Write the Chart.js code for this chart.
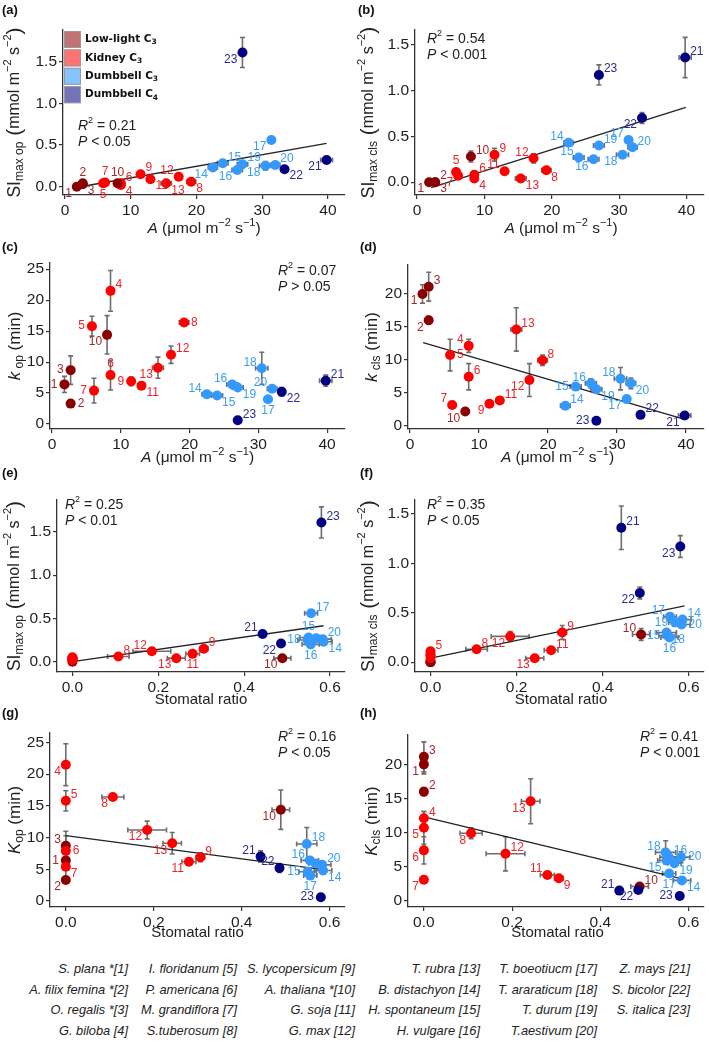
<!DOCTYPE html>
<html>
<head>
<meta charset="utf-8">
<script src="https://cdn.jsdelivr.net/npm/chart.js@4.4.1/dist/chart.umd.min.js"></script>
<style>
  body { margin: 0; background: #fff; width: 709px; height: 1042px; position: relative; overflow: hidden; }
  canvas { position: absolute; }
  .col { position: absolute; top: 959px; text-align: right; font-style: italic; font-size: 12.8px;
         line-height: 20.5px; color: #222; white-space: nowrap; font-family: "Liberation Sans", Arial, sans-serif; }
</style>
</head>
<body>
<script>
// species 1..23
const species = ['S. plana *[1]', 'A. filix femina *[2]', 'O. regalis *[3]', 'G. biloba [4]',
  'I. floridanum [5]', 'P. americana [6]', 'M. grandiflora [7]', 'S.tuberosum [8]',
  'S. lycopersicum [9]', 'A. thaliana *[10]', 'G. soja [11]', 'G. max [12]',
  'T. rubra [13]', 'B. distachyon [14]', 'H. spontaneum [15]', 'H. vulgare [16]',
  'T. boeotiucm [17]', 'T. araraticum [18]', 'T. durum [19]', 'T.aestivum [20]',
  'Z. mays [21]', 'S. bicolor [22]', 'S. italica [23]'];
// 0 low-light C3, 1 kidney C3, 2 dumbbell C3, 3 dumbbell C4
const group = [0,0,0,1,1,1,1,1,1,0,1,1,1,2,2,2,2,2,2,2,3,3,3];
const groupNames = ['Low-light C', 'Kidney C', 'Dumbbell C', 'Dumbbell C'];
const groupSub = ['3', '3', '3', '4'];

const A     = [1.8, 2.7, 2.7, 8.5, 5.8, 8.5, 6.1, 19.2, 11.5, 8.0, 13.0, 17.3, 15.4, 22.5, 24.0, 26.2, 31.4, 30.5, 27.0, 32.0, 39.8, 33.4, 27.0];
const Aerr  = [0.1, 0.1, 0.1, 0.2, 0.2, 0.2, 0.2, 0.7, 0.3, 0.2, 0.5, 0.4, 0.8, 0.7, 0.8, 0.8, 0.5, 0.9, 0.8, 0.7, 0.9, 0.3, 0.2];
const SR    = [0, 0, 0, 0, 0, 0, 0, 0.107, 0.306, 0.489, 0.28, 0.185, 0.242, 0.585, 0.55, 0.555, 0.556, 0.548, 0.568, 0.583, 0.443, 0.486, 0.58];
const SRerr = [0, 0, 0, 0, 0, 0, 0, 0.025, 0.01, 0.02, 0.016, 0.044, 0.021, 0.02, 0.02, 0.02, 0.015, 0.023, 0.015, 0.02, 0.005, 0.005, 0.005];
const SIop     = [0.0, 0.04, 0.03, 0.02, 0.04, 0.04, 0.05, 0.06, 0.15, 0.04, 0.09, 0.12, 0.04, 0.23, 0.28, 0.20, 0.56, 0.25, 0.27, 0.26, 0.32, 0.21, 1.61];
const SIopErr  = [0.01, 0.02, 0.01, 0.01, 0.01, 0.01, 0.01, 0.01, 0.02, 0.01, 0.01, 0.01, 0.01, 0.02, 0.02, 0.02, 0.03, 0.05, 0.02, 0.02, 0.03, 0.02, 0.18];
const SIcls    = [0.0, 0.0, 0.0, 0.04, 0.11, 0.08, 0.07, 0.13, 0.30, 0.28, 0.12, 0.26, 0.04, 0.43, 0.27, 0.25, 0.46, 0.30, 0.40, 0.38, 1.36, 0.70, 1.17];
const SIclsErr = [0.01, 0.01, 0.01, 0.03, 0.03, 0.03, 0.02, 0.02, 0.07, 0.06, 0.02, 0.05, 0.02, 0.02, 0.02, 0.02, 0.03, 0.03, 0.02, 0.03, 0.22, 0.06, 0.11];
const kop      = [6.4, 3.3, 8.7, 21.5, 15.8, 7.9, 5.4, 16.4, 6.9, 14.4, 6.2, 11.2, 9.1, 4.8, 4.6, 6.4, 4.0, 9.0, 5.9, 5.7, 7.0, 5.2, 0.6];
const kopErr   = [1.3, 0.4, 2.3, 3.3, 1.6, 2.4, 2.0, 0.2, 0.7, 3.1, 0.3, 1.4, 1.7, 0.5, 0.3, 0.3, 0.4, 2.6, 0.3, 0.4, 0.9, 0.7, 0.2];
const kcls     = [20.0, 16.0, 21.1, 12.1, 10.7, 7.4, 3.1, 9.9, 3.3, 2.1, 3.8, 6.9, 14.6, 3.0, 5.9, 6.4, 4.0, 7.1, 5.5, 6.4, 1.5, 1.6, 0.7];
const kclsErr  = [1.4, 0.6, 2.2, 1.0, 2.4, 2.0, 0.5, 0.8, 0.2, 0.2, 0.2, 2.5, 3.3, 0.2, 0.3, 0.7, 0.3, 1.7, 0.5, 0.8, 0.2, 0.2, 0.2];

// fitted lines, end points
const fitA_SIop  = { x: [1.7, 39.8], y: [-0.01, 0.52] };
const fitA_SIcls = { x: [2.1, 39.9], y: [-0.06, 0.815] };
const fitA_kcls  = { x: [1.9, 39.8], y: [12.6, 0.9] };
const fitS_SIop  = { x: [0, 0.585], y: [0.0, 0.415] };
const fitS_SIcls = { x: [0, 0.59], y: [0.04, 0.57] };
const fitS_kop   = { x: [0, 0.59], y: [10.3, 4.9] };
const fitS_kcls  = { x: [0, 0.59], y: [12.3, 3.15] };

const ticksA = [0, 10, 20, 30, 40];
const ticksSR = [0, 0.2, 0.4, 0.6];
const ticksSI = [0, 0.5, 1.0, 1.5];
const ticksK25 = [0, 5, 10, 15, 20, 25];
const ticksK20 = [0, 5, 10, 15, 20];

const FONT = '"Liberation Sans", Arial, sans-serif';
const pointColors = ['#8b0000', '#ff0000', '#3399ff', '#000080'];
const labelColors = ['#a3262a', '#e8262c', '#3a9ef2', '#2b2b92'];
const boxColors = ['rgba(139,0,0,0.55)', 'rgba(255,0,0,0.55)', 'rgba(51,153,255,0.6)', 'rgba(0,0,128,0.55)'];

// label placement codes (ggrepel style)
const OFF = { r: [7, 0, 'left'], l: [-7, 0, 'right'], a: [0, -11, 'center'], b: [0, 11, 'center'],
              q: [5, -6, 'left'], w: [-5, -6, 'right'], e: [5, 7, 'left'], z: [-5, 7, 'right'] };

const sup = t => ({ t, s: 11, dy: -6 });
const titleSI = op => [{ t: 'SI', s: 17.5 }, { t: op, s: 12, dy: 5 }, { t: ' (', s: 21 }, { t: 'mmol m', s: 16 },
  { t: '\u22122', s: 11, dy: -7 }, { t: ' s', s: 16 }, { t: '\u22122', s: 11, dy: -7 }, { t: ')', s: 21 }];
const titleK = (k, sub) => [{ t: k, s: 17, i: true }, { t: sub, s: 12, dy: 5 }, { t: ' (min)', s: 17 }];
const titleA = [{ t: 'A', s: 15.5, i: true }, { t: ' (\u03bcmol m', s: 15.5 }, sup('\u22122'), { t: ' s', s: 15.5 }, sup('\u22121'), { t: ')', s: 15.5 }];
const titleSR = [{ t: 'Stomatal ratio', s: 15 }];
const stat = (r, p) => [[{ t: 'R', s: 14, i: true }, { t: '2', s: 9, dy: -5 }, { t: ' = ' + r, s: 14 }],
                        [{ t: 'P', s: 14, i: true }, { t: p, s: 14 }]];

function fontOf(s) { return (s.i ? 'italic ' : '') + (s.b ? 'bold ' : '') + s.s + 'px ' + (s.f || FONT); }
function drawRich(ctx, segs, x, y, align) {
  let w = 0;
  segs.forEach(s => { ctx.font = fontOf(s); w += ctx.measureText(s.t).width; });
  let cx = align === 'center' ? x - w / 2 : align === 'right' ? x - w : x;
  ctx.textAlign = 'left';
  ctx.textBaseline = 'middle';
  segs.forEach(s => { ctx.font = fontOf(s); ctx.fillText(s.t, cx, y + (s.dy || 0)); cx += ctx.measureText(s.t).width; });
}

function panel(cfg) {
  const [cx, cy, cw, ch] = cfg.cell;
  const [l, t, r, b] = cfg.area;
  const cv = document.createElement('canvas');
  cv.width = cw; cv.height = ch;
  cv.style.left = cx + 'px'; cv.style.top = cy + 'px';
  document.body.appendChild(cv);

  const datasets = [{
    data: cfg.x.map((x, i) => ({ x, y: cfg.y[i] })),
    backgroundColor: group.map(g => pointColors[g]),
    pointRadius: 5, pointHoverRadius: 5, pointBorderWidth: 0
  }];
  if (cfg.fit) {
    datasets.push({
      data: cfg.fit.x.map((x, i) => ({ x, y: cfg.fit.y[i] })),
      showLine: true, borderColor: '#222', borderWidth: 1.3, pointRadius: 0
    });
  }
  const axis = (range, ticks, fmt) => ({
    type: 'linear', min: range[0], max: range[1],
    afterBuildTicks: s => { s.ticks = ticks.map(v => ({ value: v })); },
    grid: { display: true, drawOnChartArea: false, drawTicks: true, tickLength: 4, color: '#333', lineWidth: 1.2 },
    border: { display: true, color: '#333', width: 1.3 },
    ticks: { font: { family: FONT, size: 15.5 }, color: '#1e1e1e', padding: 2, maxRotation: 0, autoSkip: false, callback: fmt }
  });
  const xs = axis(cfg.xr, cfg.xt, cfg.xf);
  xs.afterFit = s => { s.height = cy + ch - b; };
  const ys = axis(cfg.yr, cfg.yt, cfg.yf);
  ys.afterFit = s => { s.width = l - cx; };

  const extras = {
    id: 'extras',
    beforeDatasetsDraw(chart) {
      const ctx = chart.ctx, sx = chart.scales.x, sy = chart.scales.y;
      ctx.save();
      ctx.strokeStyle = '#6e6e6e';
      ctx.lineWidth = 1.6;
      cfg.x.forEach((xv, i) => {
        const px = sx.getPixelForValue(xv), py = sy.getPixelForValue(cfg.y[i]);
        const ye = cfg.ye[i], xe = cfg.xe[i];
        ctx.beginPath();
        if (ye > 0) {
          const y1 = sy.getPixelForValue(cfg.y[i] - ye), y2 = sy.getPixelForValue(cfg.y[i] + ye);
          ctx.moveTo(px, y1); ctx.lineTo(px, y2);
          ctx.moveTo(px - 2.5, y1); ctx.lineTo(px + 2.5, y1);
          ctx.moveTo(px - 2.5, y2); ctx.lineTo(px + 2.5, y2);
        }
        if (xe > 0) {
          const x1 = sx.getPixelForValue(xv - xe), x2 = sx.getPixelForValue(xv + xe);
          ctx.moveTo(x1, py); ctx.lineTo(x2, py);
          ctx.moveTo(x1, py - 2.5); ctx.lineTo(x1, py + 2.5);
          ctx.moveTo(x2, py - 2.5); ctx.lineTo(x2, py + 2.5);
        }
        ctx.stroke();
      });
      ctx.restore();
    },
    afterDatasetsDraw(chart) {
      const ctx = chart.ctx, sx = chart.scales.x, sy = chart.scales.y;
      ctx.save();
      ctx.font = '12px ' + FONT;
      ctx.textBaseline = 'middle';
      cfg.x.forEach((xv, i) => {
        const o = OFF[cfg.lab[i]];
        if (!o) return;
        ctx.fillStyle = labelColors[group[i]];
        ctx.textAlign = o[2];
        ctx.fillText(String(i + 1), sx.getPixelForValue(xv) + o[0], sy.getPixelForValue(cfg.y[i]) + o[1]);
      });
      ctx.restore();
    },
    afterDraw(chart) {
      const ctx = chart.ctx;
      ctx.save();
      ctx.fillStyle = '#111';
      drawRich(ctx, [{ t: '(' + cfg.id + ')', s: 13, b: true }], cfg.tag[0] - cx, cfg.tag[1] - cy, 'left');
      ctx.fillStyle = '#222';
      drawRich(ctx, cfg.xtitle, (l + r) / 2 - cx, cfg.xty - cy, 'center');
      ctx.save();
      ctx.translate(cfg.ytx - cx, (t + b) / 2 - cy);
      ctx.rotate(-Math.PI / 2);
      drawRich(ctx, cfg.ytitle, 0, 0, 'center');
      ctx.restore();
      if (cfg.stat) {
        drawRich(ctx, cfg.stat[0], cfg.statPos[0] - cx, cfg.statPos[1] - cy, 'left');
        drawRich(ctx, cfg.stat[1], cfg.statPos[0] - cx, cfg.statPos[1] + 16 - cy, 'left');
      }
      if (cfg.legend) {
        groupNames.forEach((g, k) => {
          const bx = l + 1 - cx, by = t + 1 + k * 18.4 - cy;
          ctx.fillStyle = boxColors[k];
          ctx.fillRect(bx, by, 17, 17);
          ctx.strokeStyle = '#999';
          ctx.lineWidth = 1;
          ctx.strokeRect(bx + 0.5, by + 0.5, 16, 16);
          ctx.fillStyle = '#111';
          drawRich(ctx, [{ t: g, s: 10.5, b: true, f: '"DejaVu Sans", sans-serif' },
                         { t: groupSub[k], s: 7.5, b: true, dy: 3, f: '"DejaVu Sans", sans-serif' }], bx + 21, by + 8.5, 'left');
        });
      }
      ctx.restore();
    }
  };

  new Chart(cv, {
    type: 'scatter',
    data: { datasets },
    options: {
      responsive: false, animation: false, events: [],
      layout: { padding: { left: 0, top: t - cy, right: cx + cw - r, bottom: 0 } },
      plugins: { legend: { display: false }, tooltip: { enabled: false } },
      scales: { x: xs, y: ys }
    },
    plugins: [extras]
  });
}

const f1 = v => v.toFixed(1);
const f0 = v => String(v);

panel({ id: 'a', cell: [0, 0, 354, 238], area: [63, 30, 345, 195], tag: [2, 10],
  x: A, xe: Aerr, y: SIop, ye: SIopErr, xr: [-0.3, 42.6], yr: [-0.1, 1.88], xt: ticksA, yt: ticksSI, xf: f0, yf: f1,
  fit: fitA_SIop, lab: 'zaeebqaeqaewezqzzzqqzez', xtitle: titleA, xty: 229, ytitle: titleSI('max op'), ytx: 15,
  stat: stat('0.21', ' < 0.05'), statPos: [78, 126], legend: true });
panel({ id: 'b', cell: [354, 0, 355, 238], area: [415, 30, 707, 195], tag: [358, 10],
  x: A, xe: Aerr, y: SIcls, ye: SIclsErr, xr: [-0.3, 42.6], yr: [-0.14, 1.66], xt: ticksA, yt: ticksSI, xf: f0, yf: f1,
  fit: fitA_SIcls, lab: 'zqeeaqzeqqwwewwzwzqqqzq', xtitle: titleA, xty: 229, ytitle: titleSI('max cls'), ytx: 369,
  stat: stat('0.54', ' < 0.001'), statPos: [427, 39] });
panel({ id: 'c', cell: [0, 238, 354, 228], area: [50, 263, 345, 429], tag: [2, 247],
  x: A, xe: Aerr, y: kop, ye: kopErr, xr: [-0.3, 42.6], yr: [-0.8, 26], xt: ticksA, yt: ticksK25, xf: f0, yf: f0,
  fit: null, lab: 'lrlqlalrlzeqzwewbwewqeq', xtitle: titleA, xty: 458, ytitle: titleK('k', ' op'), ytx: 15,
  stat: stat('0.07', ' > 0.05'), statPos: [278, 271] });
panel({ id: 'd', cell: [354, 238, 355, 228], area: [408, 265, 707, 429], tag: [360, 247],
  x: A, xe: Aerr, y: kcls, ye: kclsErr, xr: [-0.3, 42.6], yr: [-0.55, 24.4], xt: ticksA, yt: ticksK20, xf: f0, yf: f0,
  fit: fitA_kcls, lab: 'zzqwrqwqzzqzqqlwzweezql', xtitle: titleA, xty: 458, ytitle: titleK('k', ' cls'), ytx: 372 });
panel({ id: 'e', cell: [0, 466, 354, 242], area: [57, 500, 345, 672], tag: [2, 473],
  x: SR, xe: SRerr, y: SIop, ye: SIopErr, xr: [-0.036, 0.635], yr: [-0.12, 1.87], xt: ticksSR, yt: ticksSI, xf: f1, yf: f1,
  fit: fitS_SIop, lab: '-------qqzbwzeabql-qwzq', xtitle: titleSR, xty: 700, ytitle: titleSI('max op'), ytx: 15,
  stat: stat('0.25', ' < 0.01'), statPos: [65, 505] });
panel({ id: 'f', cell: [354, 466, 355, 242], area: [415, 500, 707, 672], tag: [360, 473],
  x: SR, xe: SRerr, y: SIcls, ye: SIclsErr, xr: [-0.036, 0.635], yr: [-0.1, 1.64], xt: ticksSR, yt: ticksSI, xf: f1, yf: f1,
  fit: fitS_SIcls, lab: '----q--qqwqzzqlbwelrqzz', xtitle: titleSR, xty: 700, ytitle: titleSI('max cls'), ytx: 369,
  stat: stat('0.35', ' < 0.05'), statPos: [427, 505] });
panel({ id: 'g', cell: [0, 708, 354, 238], area: [50, 733, 345, 907], tag: [2, 713],
  x: SR, xe: SRerr, y: kop, ye: kopErr, xr: [-0.036, 0.635], yr: [-0.95, 26.5], xt: ticksSR, yt: ticksK25, xf: f1, yf: f0,
  fit: fitS_kop, lab: 'lzwzqrezqzzzzelwbq-qwwl', xtitle: titleSR, xty: 933, ytitle: titleK('K', 'op'), ytx: 15,
  stat: stat('0.16', ' < 0.05'), statPos: [278, 737] });
panel({ id: 'h', cell: [354, 708, 355, 238], area: [408, 735, 707, 907], tag: [360, 713],
  x: SR, xe: SRerr, y: kcls, ye: kclsErr, xr: [-0.036, 0.635], yr: [-0.9, 24.3], xt: ticksSR, yt: ticksK20, xf: f1, yf: f0,
  fit: fitS_kcls, lab: 'zqqqzzzzeqwqzezqbwerwzl', xtitle: titleSR, xty: 933, ytitle: titleK('K', 'cls'), ytx: 372,
  stat: stat('0.41', ' < 0.001'), statPos: [640, 737] });

// species key under the panels
const colRight = [128, 237, 355, 480, 597, 690];
colRight.forEach((rx, c) => {
  const d = document.createElement('div');
  d.className = 'col';
  d.style.right = (709 - rx) + 'px';
  d.innerHTML = species.slice(c * 4, c * 4 + 4).join('<br>');
  document.body.appendChild(d);
});
</script>
</body>
</html>
